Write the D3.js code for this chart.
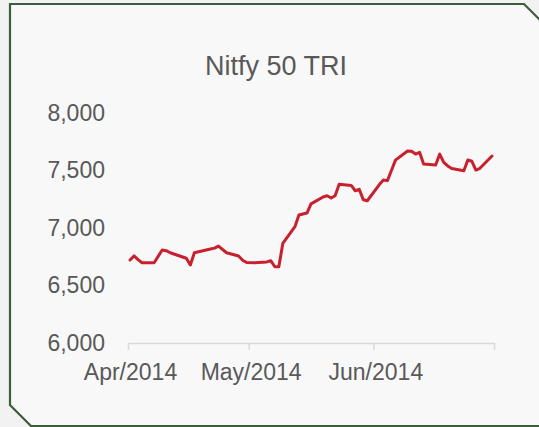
<!DOCTYPE html>
<html>
<head>
<meta charset="utf-8">
<script src="https://cdn.jsdelivr.net/npm/d3@7"></script>
<style>
  html, body { margin: 0; padding: 0; background: #f2f2f2; }
  svg { display: block; }
  text { font-family: "Liberation Sans", Arial, sans-serif; }
</style>
</head>
<body>
<script>
const title = "Nitfy 50 TRI";
const dates = [
  "2014-04-01","2014-04-02","2014-04-03","2014-04-04","2014-04-07","2014-04-09","2014-04-10","2014-04-11",
  "2014-04-15","2014-04-16","2014-04-17","2014-04-21","2014-04-22","2014-04-23","2014-04-25","2014-04-28",
  "2014-04-29","2014-04-30","2014-05-02","2014-05-05","2014-05-06","2014-05-07","2014-05-08","2014-05-09",
  "2014-05-12","2014-05-13","2014-05-14","2014-05-15","2014-05-16","2014-05-19","2014-05-20","2014-05-21",
  "2014-05-22","2014-05-23","2014-05-26","2014-05-27","2014-05-28","2014-05-29","2014-05-30","2014-06-02",
  "2014-06-03","2014-06-04","2014-06-05","2014-06-06","2014-06-09","2014-06-10","2014-06-11","2014-06-12",
  "2014-06-13","2014-06-16","2014-06-17","2014-06-18","2014-06-19","2014-06-20","2014-06-23","2014-06-24",
  "2014-06-25","2014-06-26","2014-06-27","2014-06-30"
];
const values = [
  6722, 6757, 6725, 6698, 6698, 6809, 6803, 6785,
  6737, 6678, 6785, 6818, 6825, 6843, 6785, 6757,
  6720, 6700, 6698, 6705, 6716, 6663, 6663, 6867,
  7011, 7113, 7122, 7130, 7210, 7270, 7280, 7261,
  7280, 7380, 7370, 7324, 7336, 7245, 7237, 7378,
  7417, 7412, 7500, 7590, 7670, 7668, 7643, 7658,
  7557, 7548, 7643, 7571, 7540, 7517, 7498, 7591,
  7580, 7504, 7519, 7626
];
const yTicks = [6000, 6500, 7000, 7500, 8000];
const xTickDates = ["2014-04-01","2014-05-01","2014-06-01","2014-07-01"];
const xTickLabels = ["Apr/2014","May/2014","Jun/2014",""];

const W = 539, H = 427;
const parse = d3.timeParse("%Y-%m-%d");
const data = dates.map((d, i) => ({ date: d3.timeHour.offset(parse(d), 12), value: values[i] }));

const svg = d3.select("body").append("svg").attr("width", W).attr("height", H);

// card background with chamfered corners
svg.append("path")
  .attr("d", "M10,4 L524,4 L560,40 L560,440 L31,426 Z")
  .attr("fill", "none");
svg.append("path")
  .attr("d", "M10,4 L524,4 L547,27 L547,426 L31,426 L10,405 Z")
  .attr("fill", "#f8f8f8")
  .attr("stroke", "#3e5d3c")
  .attr("stroke-width", 2.2)
  .attr("stroke-linejoin", "miter");

const x = d3.scaleTime()
  .domain([parse(xTickDates[0]), parse(xTickDates[xTickDates.length - 1])])
  .range([128, 494]);
const y = d3.scaleLinear().domain([6000, 8000]).range([343, 113]);

// title
svg.append("text")
  .attr("x", 276).attr("y", 75)
  .attr("text-anchor", "middle")
  .attr("font-size", 27)
  .attr("fill", "#595959")
  .text(title);

// y axis labels (no line)
const yAxis = d3.axisLeft(y).tickValues(yTicks).tickSize(0).tickPadding(0)
  .tickFormat(d3.format(","));
const gy = svg.append("g").attr("transform", "translate(105,0)").call(yAxis);
gy.select(".domain").remove();
gy.selectAll("text")
  .attr("font-size", 23)
  .attr("fill", "#595959")
  .attr("font-family", "Liberation Sans, Arial, sans-serif");

// x axis
const xAxis = d3.axisBottom(x)
  .tickValues(xTickDates.map(parse))
  .tickSize(7)
  .tickSizeOuter(0)
  .tickPadding(14)
  .tickFormat((d, i) => xTickLabels[i]);
const gx = svg.append("g").attr("transform", "translate(0,343)").call(xAxis);
gx.select(".domain").attr("stroke", "#d9d9d9").attr("stroke-width", 1.5);
gx.selectAll(".tick line").attr("stroke", "#d9d9d9").attr("stroke-width", 1.5);
gx.selectAll("text")
  .attr("font-size", 23)
  .attr("fill", "#595959")
  .attr("dx", 2)
  .attr("font-family", "Liberation Sans, Arial, sans-serif");

// line
const line = d3.line().x(d => x(d.date)).y(d => y(d.value));
svg.append("path")
  .datum(data)
  .attr("d", line)
  .attr("fill", "none")
  .attr("stroke", "#c8202e")
  .attr("stroke-width", 3)
  .attr("stroke-linejoin", "round")
  .attr("stroke-linecap", "round");
</script>
</body>
</html>
